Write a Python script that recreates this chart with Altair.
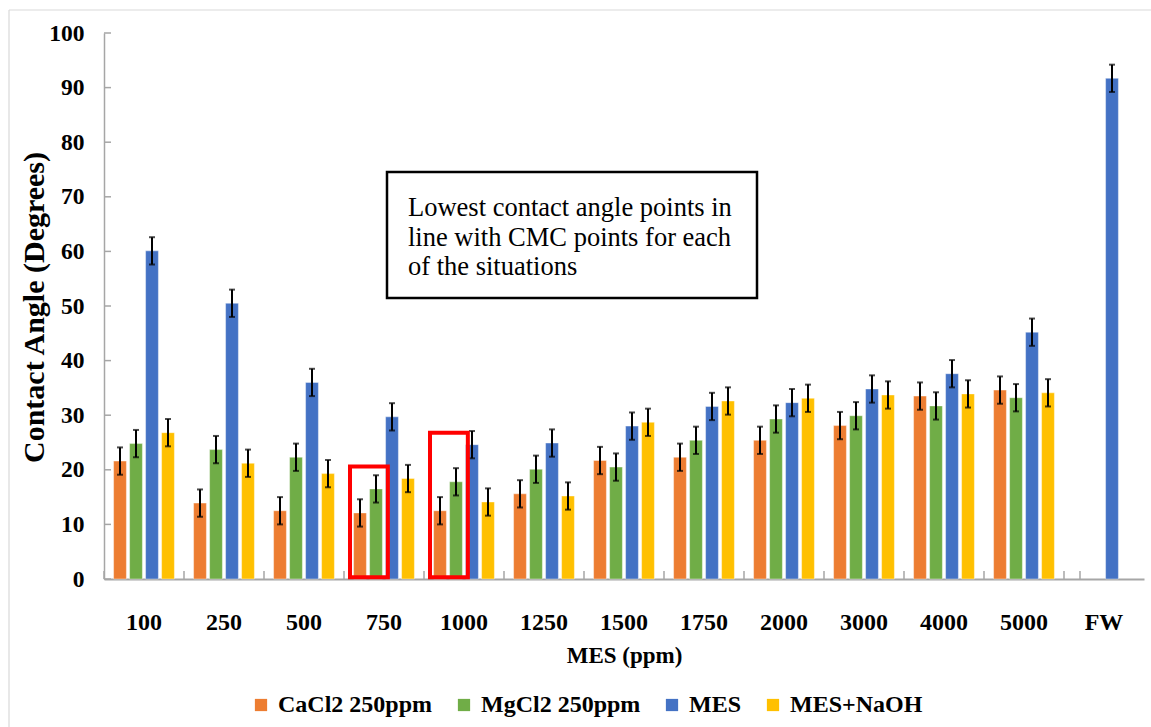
import altair as alt
import pandas as pd

cats = ["100", "250", "500", "750", "1000", "1250", "1500", "1750", "2000", "3000", "4000", "5000", "FW"]
series = ["CaCl2 250ppm", "MgCl2 250ppm", "MES", "MES+NaOH"]
colors = ["#ED7D31", "#70AD47", "#4472C4", "#FFC000"]

cacl2 = [21.6, 13.9, 12.5, 12.1, 12.5, 15.6, 21.7, 22.3, 25.4, 28.1, 33.5, 34.6, None]
mgcl2 = [24.8, 23.7, 22.3, 16.5, 17.8, 20.1, 20.5, 25.4, 29.3, 29.9, 31.7, 33.2, None]
mes = [60.1, 50.5, 36.0, 29.7, 24.6, 24.9, 28.0, 31.6, 32.3, 34.8, 37.6, 45.2, 91.7]
mes_naoh = [26.8, 21.2, 19.3, 18.4, 14.1, 15.2, 28.7, 32.6, 33.1, 33.7, 33.9, 34.1, None]
err = [2.5, 2.5, 2.5, 2.5, 2.5, 2.5, 2.5, 2.5, 2.5, 2.5, 2.5, 2.5, 2.5]

y_ticks = [0, 10, 20, 30, 40, 50, 60, 70, 80, 90, 100]

box_cats = ["750", "1000"]
box_top = [20.6, 26.8]
box_bottom = [0.3, 0.3]

note = "Lowest contact angle points in\nline with CMC points for each\nof the situations"

rows = []
for name, vals in zip(series, [cacl2, mgcl2, mes, mes_naoh]):
    for c, v, e in zip(cats, vals, err):
        if v is not None:
            rows.append({"cat": c, "series": name, "value": v, "lo": v - e, "hi": v + e})
df = pd.DataFrame(rows)

FONT = "Liberation Serif"
GREY = "#A6A6A6"

x_enc = alt.X("cat:N", sort=cats,
              scale=alt.Scale(domain=cats, paddingInner=0.2, paddingOuter=0.1),
              axis=alt.Axis(title="MES (ppm)", labelAngle=0, labelFont=FONT, labelFontSize=24,
                            labelFontWeight="bold", labelColor="black", labelPadding=31,
                            ticks=False, domainColor=GREY, domainWidth=2,
                            titleFont=FONT, titleFontSize=23, titleFontWeight="bold",
                            titleColor="black", titleY=76, titleBaseline="middle"))
xo_enc = alt.XOffset("series:N", sort=series,
                     scale=alt.Scale(domain=series, paddingInner=0.2, paddingOuter=0.1))

bars = alt.Chart(df).mark_bar(stroke="white", strokeWidth=0.8, strokeOpacity=0.5).encode(
    x=x_enc,
    xOffset=xo_enc,
    y=alt.Y("value:Q", scale=alt.Scale(domain=[0, 100], nice=False),
            axis=alt.Axis(values=y_ticks, title="Contact Angle (Degrees)", labelFont=FONT,
                          labelFontSize=23.5, labelFontWeight="bold", labelColor="black",
                          labelPadding=20, ticks=False, grid=False, domainColor=GREY,
                          domainWidth=1.5, titleFont=FONT, titleFontSize=30,
                          titleFontWeight="bold", titleColor="black", titleAngle=-90,
                          titleX=-70, titleY=274, titleAlign="center",
                          titleBaseline="middle")),
    color=alt.Color("series:N", sort=series,
                    scale=alt.Scale(domain=series, range=colors),
                    legend=alt.Legend(title=None, orient="none", direction="horizontal",
                                      legendX=145, legendY=660, columns=4,
                                      columnPadding=19, symbolType="square",
                                      symbolSize=150, symbolStrokeWidth=0,
                                      labelFont=FONT, labelFontSize=24,
                                      labelFontWeight="bold", labelColor="black",
                                      labelOffset=5)),
)

errs = alt.Chart(df).mark_rule(color="black", strokeWidth=2).encode(
    x=alt.X("cat:N", sort=cats), xOffset=xo_enc, y="lo:Q", y2="hi:Q")

caps = alt.Chart(df).transform_fold(["lo", "hi"], as_=["k", "v"]).mark_tick(
    color="black", size=6, thickness=2).encode(
    x=alt.X("cat:N", sort=cats), xOffset=xo_enc, y="v:Q")

boxes_df = pd.DataFrame({"cat": box_cats, "top": box_top, "bottom": box_bottom})
red_boxes = alt.Chart(boxes_df).mark_rect(fill=None, stroke="#FF0000", strokeWidth=4).encode(
    x=alt.X("cat:N", sort=cats, bandPosition=0),
    x2=alt.X2("cat:N", bandPosition=0.56),
    xOffset=alt.value(-2),
    y="top:Q", y2="bottom:Q")

tick_df = pd.DataFrame({"cat": cats})
x_ticks = alt.Chart(tick_df).mark_rule(color=GREY, strokeWidth=1.5).encode(
    x=alt.X("cat:N", sort=cats, bandPosition=0),
    xOffset=alt.value(-8),
    y=alt.value(546), y2=alt.value(538))
x_tick_end = alt.Chart(pd.DataFrame({"cat": [cats[-1]]})).mark_rule(color=GREY, strokeWidth=1.5).encode(
    x=alt.X("cat:N", sort=cats, bandPosition=1),
    xOffset=alt.value(8),
    y=alt.value(546), y2=alt.value(538))

y_tick_df = pd.DataFrame({"t": y_ticks})
y_tick_marks = alt.Chart(y_tick_df).mark_rule(color=GREY, strokeWidth=1.5).encode(
    y="t:Q", x=alt.value(0), x2=alt.value(7))

one = pd.DataFrame({"a": [0]})
frame_top = alt.Chart(one).mark_rule(color="#D9D9D9", strokeWidth=1.2).encode(
    x=alt.value(-95), x2=alt.value(1047), y=alt.value(-23))
frame_left = alt.Chart(one).mark_rule(color="#D9D9D9", strokeWidth=1.2).encode(
    x=alt.value(-95), y=alt.value(-23), y2=alt.value(694))

note_box = alt.Chart(one).mark_rect(fill="white", stroke="black", strokeWidth=2.5).encode(
    x=alt.value(283), x2=alt.value(653), y=alt.value(139), y2=alt.value(265))
note_text = alt.Chart(one).mark_text(
    text=note, lineBreak="\n", lineHeight=29.5, font=FONT, fontSize=26.5, align="left",
    baseline="middle", color="black").encode(x=alt.value(304), y=alt.value(175))

chart = alt.layer(bars, errs, caps, red_boxes, x_ticks, x_tick_end, y_tick_marks,
                  frame_top, frame_left, note_box, note_text).properties(
    width=1040, height=546,
    autosize=alt.AutoSizeParams(type="none"),
    padding={"left": 104, "top": 33, "right": 7, "bottom": 148},
    background="white",
).configure_view(stroke=None)

chart.save("out.html", embed_options={"renderer": "svg", "actions": False})
